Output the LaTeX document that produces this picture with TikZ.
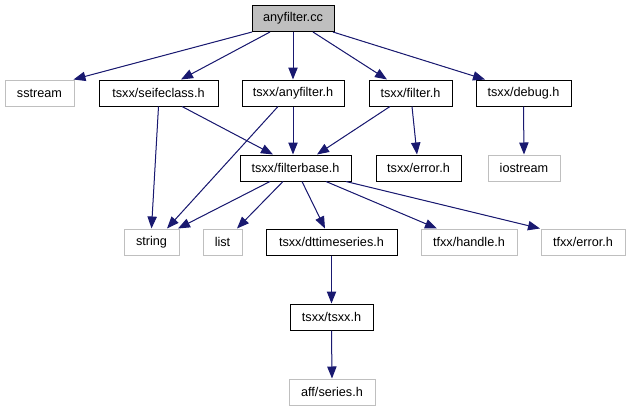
\documentclass[tikz,border=0pt]{standalone}
\usepackage{fontspec}
\setmainfont{Liberation Sans}
\usetikzlibrary{arrows.meta,calc}
\definecolor{edgeblue}{HTML}{191970}
\definecolor{extgrey}{HTML}{BFBFBF}
\begin{document}
\begin{tikzpicture}[x=0.75pt,y=-0.75pt,
  box/.style={draw=black,line width=0.75pt,inner sep=0pt,minimum height=19.5pt,font=\fontsize{9.5}{11}\selectfont},
  ext/.style={box,draw=extgrey},
  edge/.style={draw=edgeblue,line width=0.75pt,-{Triangle[length=9pt,width=7pt]},fill=edgeblue}]
\useasboundingbox (0,0) rectangle (629,411);
\node[box,fill=extgrey,minimum width=61.5pt] (root) at (293,18.5) {anyfilter.cc};
\node[ext,minimum width=51.75pt] (sstream) at (39.5,93) {sstream};
\node[box,minimum width=89.25pt] (seife) at (158.5,93) {tsxx/seifeclass.h};
\node[box,minimum width=76.5pt] (anyh) at (293,93) {tsxx/anyfilter.h};
\node[box,minimum width=62.25pt] (filter) at (410.5,93) {tsxx/filter.h};
\node[box,minimum width=71.25pt] (debug) at (523.5,93) {tsxx/debug.h};
\node[box,minimum width=83.25pt] (fb) at (295.5,168) {tsxx/filterbase.h};
\node[box,minimum width=63.75pt] (err) at (418.5,168) {tsxx/error.h};
\node[ext,minimum width=54pt] (ios) at (524,168) {iostream};
\node[ext,minimum width=41.25pt] (string) at (151.5,242) {string};
\node[ext,minimum width=29.25pt] (list) at (222.5,242) {list};
\node[box,minimum width=98.25pt] (dtt) at (331.5,242) {tsxx/dttimeseries.h};
\node[ext,minimum width=72pt] (handle) at (469,242) {tfxx/handle.h};
\node[ext,minimum width=63pt] (terr) at (583,242) {tfxx/error.h};
\node[box,minimum width=62.25pt] (tsxx) at (331.5,317) {tsxx/tsxx.h};
\node[ext,minimum width=64.5pt] (series) at (332,392) {aff/series.h};
\draw[edge] ($(root.south)+(-41,0)$) -- ($(sstream.north)+(34,0)$);
\draw[edge] ($(root.south)+(-23,0)$) -- ($(seife.north)+(22.5,0)$);
\draw[edge] (root.south) -- (anyh.north);
\draw[edge] ($(root.south)+(20,0)$) -- ($(filter.north)+(-23.5,0)$);
\draw[edge] ($(root.south)+(40,0)$) -- ($(debug.north)+(-38.5,0)$);
\draw[edge] ($(seife.south)+(0,0)$) -- ($(string.north)+(0,0)$);
\draw[edge] ($(seife.south)+(23.5,0)$) -- ($(fb.north)+(-22.5,0)$);
\draw[edge] ($(anyh.south)+(-15,0)$) -- ($(string.north)+(15.5,0)$);
\draw[edge] (anyh.south) -- ($(fb.north)+(-2.5,0)$);
\draw[edge] ($(filter.south)+(-20.5,0)$) -- ($(fb.north)+(21.5,0)$);
\draw[edge] ($(filter.south)+(1.5,0)$) -- ($(err.north)+(-1.5,0)$);
\draw[edge] (debug.south) -- (ios.north);
\draw[edge] ($(fb.south)+(-25.5,0)$) -- ($(string.north)+(26.5,0)$);
\draw[edge] ($(fb.south)+(-12.5,0)$) -- ($(list.north)+(14.5,0)$);
\draw[edge] ($(fb.south)+(6.5,0)$) -- ($(dtt.north)+(-6.5,0)$);
\draw[edge] ($(fb.south)+(30.5,0)$) -- ($(handle.north)+(-32,0)$);
\draw[edge] ($(fb.south)+(50.5,0)$) -- ($(terr.north)+(-43,0)$);
\draw[edge] (dtt.south) -- (tsxx.north);
\draw[edge] (tsxx.south) -- (series.north);
\end{tikzpicture}
\end{document}
